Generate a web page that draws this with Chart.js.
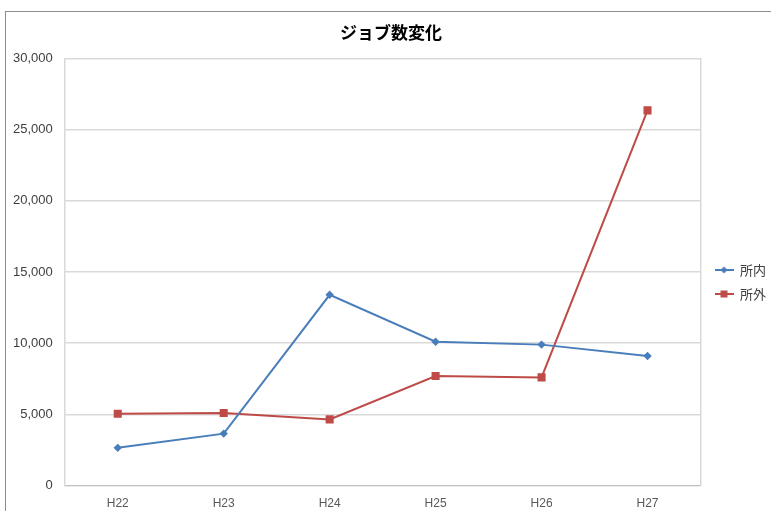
<!DOCTYPE html>
<html>
<head>
<meta charset="utf-8">
<script src="https://cdn.jsdelivr.net/npm/chart.js@4/dist/chart.umd.min.js"></script>
<style>
  html, body { margin: 0; padding: 0; background: #fff; overflow: hidden; }
  #wrap { position: relative; width: 771px; height: 511px; }
  #frame { position: absolute; left: 5px; top: 11px; width: 800px; height: 520px; border: 1px solid #8c8c8c; box-sizing: border-box; }
  canvas { position: absolute; left: 0; top: 0; }
</style>
</head>
<body>
<div id="wrap">
  <div id="frame"></div>
  <canvas id="chart" width="771" height="511"></canvas>
</div>
<script>
// 年度
let nendo = ['H22', 'H23', 'H24', 'H25', 'H26', 'H27'];
// ジョブ数
let shonai = [2650, 3650, 13400, 10100, 9900, 9100];
let shogai = [5050, 5100, 4650, 7700, 7600, 26350];
let yTicks = [0, 5000, 10000, 15000, 20000, 25000, 30000];

let blue = '#4a7ebb';
let red = '#be4b48';
let grid = '#d9d9d9';

// 凡例用のマーカー(線+記号)
function legendMark(color, shape) {
    let c = document.createElement('canvas');
    c.width = 19; c.height = 10;
    let g = c.getContext('2d');
    g.strokeStyle = color;
    g.lineWidth = 2;
    g.beginPath(); g.moveTo(0, 5); g.lineTo(19, 5); g.stroke();
    g.fillStyle = color;
    g.beginPath();
    if (shape == 'diamond') {
        g.moveTo(9.5, 1.5); g.lineTo(13, 5); g.lineTo(9.5, 8.5); g.lineTo(6, 5);
    } else {
        g.rect(6, 1.5, 7, 7);
    }
    g.fill();
    return c;
}

// 凡例とタイトルの位置を微調整
let boxShift = {
    id: 'boxShift',
    afterLayout: function (chart) {
        let lg = chart.legend;
        lg.left += 3;
        lg.right += 3;
        lg.top += 21;
        lg.bottom += 21;
        let tb = chart.titleBlock;
        tb.left += 4;
        tb.right += 4;
    }
};

let dati = {
    labels: nendo,
    datasets: [{
        label: '所内',
        data: shonai,
        borderColor: blue,
        backgroundColor: blue,
        borderWidth: 2,
        pointStyle: 'rectRot',
        pointRadius: 4.2,
        pointBorderWidth: 0,
        legendMark: legendMark(blue, 'diamond')
    }, {
        label: '所外',
        data: shogai,
        borderColor: red,
        backgroundColor: red,
        borderWidth: 2,
        pointStyle: 'rect',
        pointRadius: 5.7,
        pointBorderWidth: 0,
        legendMark: legendMark(red, 'square')
    }]
};

let config = {
    type: 'line',
    data: dati,
    plugins: [boxShift],
    options: {
        responsive: false,
        animation: false,
        layout: { padding: { left: 1, right: -2, top: 0, bottom: -11 } },
        plugins: {
            title: {
                display: true,
                text: 'ジョブ数変化',
                color: '#000',
                font: { size: 17, weight: 'bold', family: '"Noto Sans CJK JP", sans-serif' },
                padding: { top: 22, bottom: 16 }
            },
            legend: {
                position: 'right',
                labels: {
                    usePointStyle: true,
                    pointStyleWidth: 19,
                    color: '#404040',
                    font: { size: 13, family: '"Noto Sans CJK JP", sans-serif' },
                    padding: 11,
                    generateLabels: function (chart) {
                        return chart.data.datasets.map(function (ds, i) {
                            return {
                                text: ds.label,
                                pointStyle: ds.legendMark,
                                fillStyle: ds.borderColor,
                                strokeStyle: ds.borderColor,
                                lineWidth: 0,
                                fontColor: '#404040',
                                datasetIndex: i
                            };
                        });
                    }
                }
            },
            tooltip: { enabled: false }
        },
        scales: {
            x: {
                offset: true,
                grid: { display: false, drawTicks: false },
                border: { color: '#bfbfbf', width: 1 },
                ticks: {
                    color: '#595959',
                    padding: 11,
                    font: { size: 12, family: '"Liberation Sans", sans-serif' }
                }
            },
            y: {
                min: 0,
                max: 30000,
                afterBuildTicks: function (axis) {
                    axis.ticks = yTicks.map(function (v) { return { value: v }; });
                },
                grid: { color: grid, lineWidth: 1.5, drawTicks: false },
                border: { color: grid, width: 1.5 },
                ticks: {
                    color: '#404040',
                    padding: 12,
                    font: { size: 13, family: '"Liberation Sans", sans-serif' },
                    callback: function (v) { return v.toLocaleString('en-US'); }
                }
            },
            y2: {
                position: 'right',
                min: 0,
                max: 30000,
                afterFit: function (axis) { axis.width = 0; },
                grid: { display: false, drawTicks: false },
                border: { color: grid, width: 1.5 },
                ticks: { display: false }
            }
        }
    }
};

let ctx = document.getElementById('chart').getContext('2d');
new Chart(ctx, config);
</script>
</body>
</html>
